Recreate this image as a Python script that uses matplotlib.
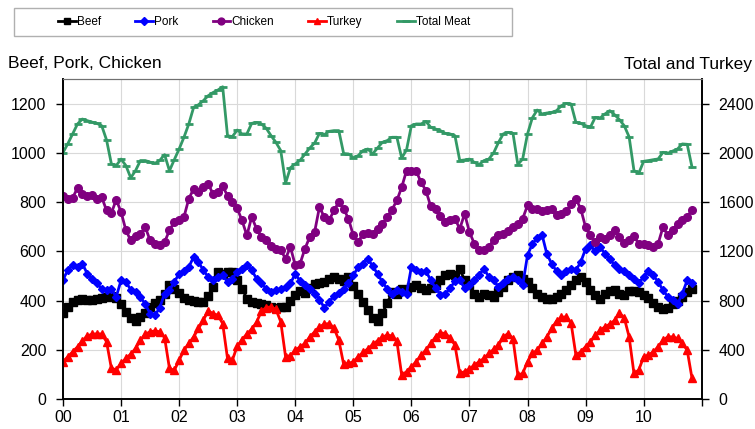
import numpy as np
import matplotlib.pyplot as plt
from matplotlib.patches import Rectangle

plt.rcParams['font.family'] = ['Liberation Sans', 'DejaVu Sans']

# monthly cold storage, Jan 2000 - Nov 2010 (million lbs)
years = ['00', '01', '02', '03', '04', '05', '06', '07', '08', '09', '10']

beef = [352, 375, 395, 405, 409, 402, 405, 409, 412, 416, 418, 412,
        385, 355, 330, 318, 335, 350, 375, 391, 402, 429, 463, 449,
        430, 412, 402, 399, 395, 395, 420, 456, 517, 510, 517, 517,
        483, 449, 409, 395, 390, 386, 382, 375, 372, 375, 375, 400,
        425, 440, 430, 452, 468, 472, 478, 490, 497, 490, 480, 497,
        460, 429, 395, 362, 328, 318, 350, 389, 436, 429, 449, 443,
        455, 465, 452, 445, 450, 465, 485, 503, 507, 503, 530, 483,
        463, 429, 416, 426, 422, 416, 436, 456, 483, 497, 503, 490,
        476, 450, 429, 416, 409, 409, 416, 426, 443, 463, 483, 497,
        476, 443, 422, 409, 429, 440, 445, 429, 425, 438, 440, 436,
        422, 410, 392, 375, 366, 372, 385, 400, 416, 435, 449]

pork = [486, 524, 544, 537, 551, 510, 490, 470, 449, 445, 449, 416,
        483, 476, 445, 436, 416, 386, 348, 341, 372, 429, 443, 476,
        510, 521, 537, 578, 557, 524, 497, 483, 497, 503, 476, 490,
        517, 530, 544, 524, 490, 470, 449, 436, 443, 449, 456, 470,
        510, 480, 465, 449, 429, 405, 372, 395, 420, 432, 449, 470,
        503, 537, 551, 571, 540, 510, 476, 449, 429, 443, 436, 429,
        537, 524, 515, 521, 483, 452, 425, 429, 450, 480, 485, 450,
        463, 483, 505, 530, 497, 483, 456, 470, 490, 497, 483, 463,
        585, 630, 655, 668, 590, 550, 520, 505, 520, 528, 524, 557,
        610, 625, 600, 618, 591, 571, 544, 530, 520, 505, 490, 472,
        497, 521, 503, 476, 443, 416, 402, 386, 429, 483, 470]

chicken = [827, 814, 818, 858, 834, 827, 828, 814, 820, 767, 756, 810,
           760, 686, 645, 661, 670, 699, 645, 629, 628, 638, 686, 719,
           726, 740, 814, 854, 841, 861, 874, 834, 841, 864, 827, 800,
           775, 726, 665, 740, 692, 659, 645, 622, 611, 605, 571, 618,
           544, 551, 611, 659, 679, 780, 740, 726, 767, 800, 773, 733,
           665, 638, 672, 675, 670, 690, 712, 740, 770, 807, 861, 928,
           928, 926, 881, 847, 783, 773, 745, 720, 726, 733, 692, 753,
           679, 632, 605, 607, 618, 648, 665, 669, 685, 699, 712, 733,
           787, 773, 773, 764, 768, 773, 746, 753, 764, 791, 814, 773,
           699, 665, 638, 659, 652, 665, 686, 659, 635, 648, 661, 632,
           632, 625, 618, 632, 699, 665, 686, 712, 726, 740, 769]

turkey = [305, 345, 386, 426, 475, 515, 528, 532, 530, 467, 251, 240,
          291, 332, 367, 413, 480, 529, 548, 556, 548, 500, 251, 235,
          318, 399, 453, 507, 575, 642, 718, 696, 683, 615, 332, 318,
          430, 485, 530, 570, 625, 715, 745, 750, 730, 630, 345, 355,
          399, 426, 453, 507, 548, 588, 610, 615, 580, 480, 285, 291,
          305, 345, 380, 410, 445, 475, 505, 521, 515, 470, 197, 224,
          264, 305, 359, 399, 453, 507, 540, 534, 500, 440, 210, 225,
          245, 278, 305, 332, 372, 405, 440, 507, 534, 490, 197, 210,
          305, 372, 399, 453, 507, 575, 635, 665, 670, 620, 359, 386,
          426, 467, 521, 561, 588, 610, 640, 700, 660, 507, 210, 238,
          345, 359, 386, 426, 480, 507, 507, 494, 453, 399, 170]

total = [2003, 2075, 2154, 2235, 2275, 2262, 2250, 2240, 2221, 2105, 1911, 1897,
         1950, 1897, 1798, 1857, 1938, 1938, 1925, 1915, 1940, 1986, 1855, 1945,
         2032, 2127, 2235, 2370, 2391, 2424, 2464, 2490, 2510, 2537, 2140, 2132,
         2186, 2154, 2154, 2240, 2248, 2235, 2200, 2140, 2086, 2019, 1755, 1880,
         1910, 1940, 1990, 2040, 2080, 2159, 2148, 2175, 2181, 2181, 1995, 1992,
         1960, 1978, 2019, 2032, 1992, 2040, 2086, 2100, 2127, 2127, 1959, 2025,
         2221, 2235, 2235, 2256, 2208, 2194, 2181, 2159, 2154, 2140, 1938, 1943,
         1950, 1924, 1905, 1938, 1950, 2000, 2085, 2155, 2167, 2159, 1905, 1951,
         2154, 2285, 2348, 2316, 2324, 2329, 2343, 2383, 2402, 2397, 2248, 2240,
         2221, 2208, 2289, 2283, 2316, 2343, 2310, 2270, 2220, 2130, 1857, 1835,
         1932, 1938, 1945, 1951, 2005, 1997, 2015, 2032, 2073, 2070, 1884]

months = np.arange(len(beef))

fig = plt.figure(figsize=(7.55, 4.29), dpi=100)
ax = fig.add_axes([63 / 755, 1 - 399.3 / 429, (701.7 - 63) / 755, (399.3 - 79) / 429])
ax2 = ax.twinx()

ax.plot(months, beef, color='black', marker='s', ms=5.5, lw=2, label='Beef')
ax.plot(months, pork, color='#0000ff', marker='D', ms=4, lw=2, label='Pork')
ax.plot(months, chicken, color='#800080', marker='o', ms=5.5, lw=2, label='Chicken')
ax2.plot(months, turkey, color='#ff0000', marker='^', ms=5.5, lw=2, label='Turkey')
ax2.plot(months, total, color='#339966', marker='_', ms=6, mew=2, lw=2, label='Total Meat')

ax.set_xlim(0, 132)
ax.set_ylim(0, 1300)
ax2.set_ylim(0, 2600)
ax.set_xticks(range(0, 133, 12))
ax.set_xticklabels(years + [''])
ax.set_yticks(range(0, 1201, 200))
ax2.set_yticks(range(0, 2401, 400))

ax.grid(True, color='#d9d9d9', lw=0.8)
ax.set_axisbelow(True)
ax.tick_params(direction='out', length=5, width=1, labelsize=11.5, pad=7)
ax.tick_params(axis='x', pad=2.5)
ax2.tick_params(direction='out', length=5, width=1, labelsize=11.5, pad=7)

for a in (ax, ax2):
    for side in ('left', 'right', 'bottom'):
        a.spines[side].set_linewidth(1.2)
        a.spines[side].set_color('black')
    a.spines['top'].set_color('#707070')
    a.spines['top'].set_linewidth(0.8)

fig.text(8 / 755, 1 - 64 / 429, 'Beef, Pork, Chicken', ha='left', va='center', fontsize=12.5)
fig.text(752 / 755, 1 - 64 / 429, 'Total and Turkey', ha='right', va='center', fontsize=12.5)

# legend box across the top
fig.patches.append(Rectangle((14 / 755, 1 - 36 / 429), 498 / 755, 28 / 429,
                             transform=fig.transFigure, fill=False,
                             edgecolor='#b0b0b0', lw=1))
h1, l1 = ax.get_legend_handles_labels()
h2, l2 = ax2.get_legend_handles_labels()
fig.legend(h1 + h2, l1 + l2, loc='center', bbox_to_anchor=(264 / 755, 1 - 22 / 429),
           ncol=5, frameon=False, fontsize=8.5, handlelength=1.5,
           handletextpad=0.1, columnspacing=2.9, markerscale=0.9)

fig.savefig('out.png', dpi=100)
